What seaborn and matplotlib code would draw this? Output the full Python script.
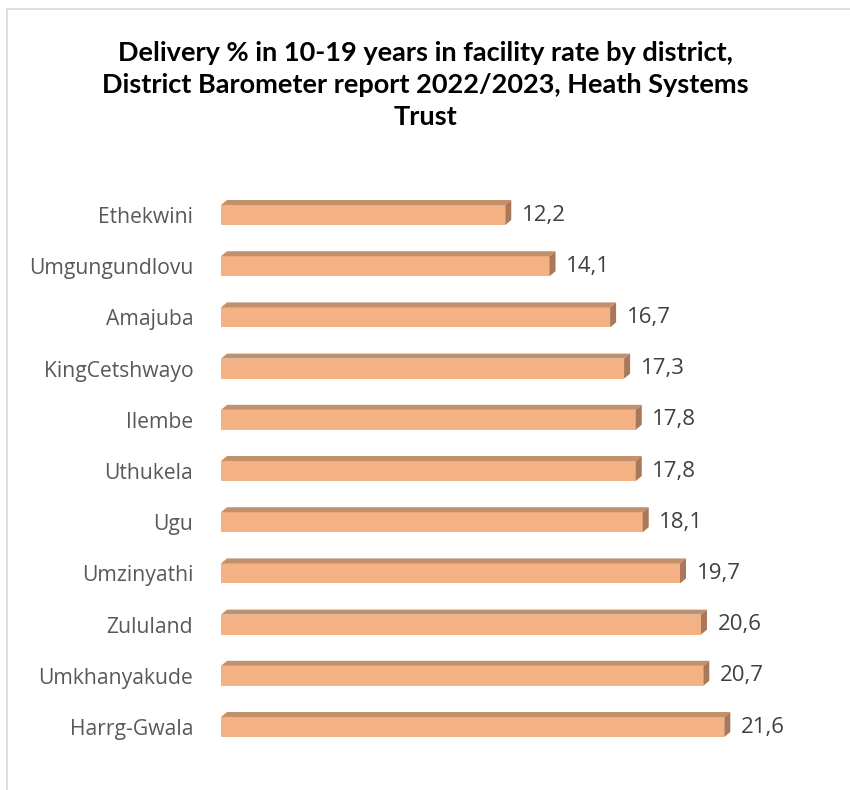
import matplotlib
matplotlib.use("Agg")
import matplotlib.pyplot as plt
from matplotlib.patches import Polygon
from matplotlib.lines import Line2D
from matplotlib.transforms import IdentityTransform
import seaborn as sns
import pandas as pd

districts = ["Ethekwini", "Umgungundlovu", "Amajuba", "KingCetshwayo", "Ilembe",
             "Uthukela", "Ugu", "Umzinyathi", "Zululand", "Umkhanyakude", "Harrg-Gwala"]
rates = [12.2, 14.1, 16.7, 17.3, 17.8, 17.8, 18.1, 19.7, 20.6, 20.7, 21.6]
value_labels = ["12,2", "14,1", "16,7", "17,3", "17,8", "17,8", "18,1", "19,7", "20,6", "20,7", "21,6"]

title = ("Delivery % in 10-19 years in facility rate by district,\n"
         "District Barometer report 2022/2023, Heath Systems\nTrust")

front_color = "#F4B183"
top_color = "#C3906C"
side_color = "#A87858"

sns.set_theme(style="white")
plt.rcParams["font.family"] = ["Open Sans", "DejaVu Sans"]

W, H, DPI = 850, 790, 100
fig = plt.figure(figsize=(W / DPI, H / DPI), dpi=DPI)
fig.patch.set_facecolor("white")

# axes placed in pixel units
left_px, right_px = 221, 803
top_px, bottom_px = 189.4, 752.6
ax = fig.add_axes([left_px / W, 1 - bottom_px / H,
                   (right_px - left_px) / W, (bottom_px - top_px) / H])

df = pd.DataFrame({"district": districts, "rate": rates})
sns.barplot(data=df, x="rate", y="district", orient="h", color=front_color,
            saturation=1, width=0.39, ax=ax, linewidth=0)

ax.set_xlim(0, (right_px - left_px) / 23.3)
ax.set_ylim(10.5, -0.5)
ax.set_xlabel("")
ax.set_ylabel("")
ax.set_xticks([])
for s in ax.spines.values():
    s.set_visible(False)
ax.tick_params(axis="y", length=0, pad=20, labelsize=15.2, labelcolor="#595959")
for t in ax.get_yticklabels():
    t.set_family(["Open Sans", "DejaVu Sans"])

# 3D faces: top and right side of each bar, offset in pixels
dx, dy = 6, 5
for p in ax.patches:
    x0, y0 = p.get_x(), p.get_y()
    w, h = p.get_width(), p.get_height()
    (ax0, ay_top), (ax1, ay_bot) = ax.transData.transform([(x0, y0), (x0 + w, y0 + h)])
    yt = max(ay_top, ay_bot)
    yb = min(ay_top, ay_bot)
    top = Polygon([(ax0, yt), (ax1, yt), (ax1 + dx, yt + dy), (ax0 + dx, yt + dy)],
                  closed=True, facecolor=top_color, edgecolor="none",
                  transform=IdentityTransform(), zorder=3)
    side = Polygon([(ax1, yb), (ax1 + dx, yb + dy), (ax1 + dx, yt + dy), (ax1, yt)],
                   closed=True, facecolor=side_color, edgecolor="none",
                   transform=IdentityTransform(), zorder=3)
    fig.add_artist(top)
    fig.add_artist(side)

for i, (v, lab) in enumerate(zip(rates, value_labels)):
    ax.annotate(lab, xy=(v, i), xytext=(12, 0), textcoords="offset points",
                ha="left", va="center", fontsize=16, color="#404040",
                family=["Open Sans", "DejaVu Sans"])

fig.text(0.5, 1 - 85 / H, title, ha="center", va="center", fontsize=19.5,
         fontweight="bold", color="black", linespacing=1.4,
         family=["Lato", "DejaVu Sans"])

# chart-area border (left and top edges)
fig.add_artist(Line2D([7 / W, 7 / W], [0, 1 - 9 / H], color="#D9D9D9", lw=1.2,
                      transform=fig.transFigure))
fig.add_artist(Line2D([7 / W, 1], [1 - 9 / H, 1 - 9 / H], color="#D9D9D9", lw=1.2,
                      transform=fig.transFigure))

fig.savefig("out.png", dpi=DPI, facecolor="white")
